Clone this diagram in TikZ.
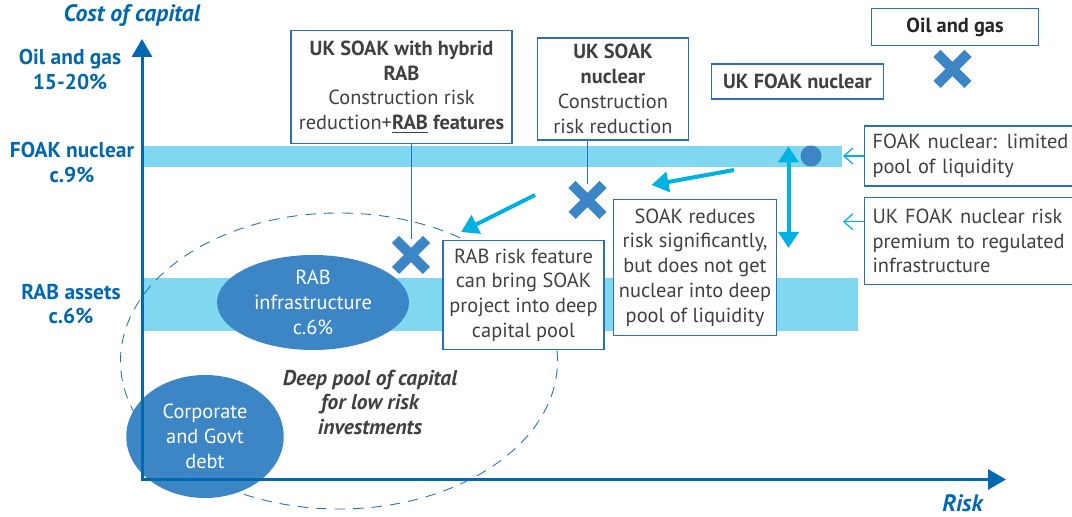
\documentclass[tikz,border=0pt]{standalone}
\usepackage{fontspec}
\setmainfont{PT Sans}
\usetikzlibrary{arrows.meta,shapes.geometric,shapes.misc}

\definecolor{axisblue}{RGB}{0,103,177}
\definecolor{bandblue}{RGB}{127,216,240}
\definecolor{blobblue}{RGB}{60,134,198}
\definecolor{arrowcyan}{RGB}{0,178,227}
\definecolor{boxblue}{RGB}{40,112,184}
\definecolor{textgray}{RGB}{64,64,64}

\begin{document}
\begin{tikzpicture}[font=\fontsize{11.6}{14.1}\selectfont,
  box/.style={draw=boxblue,line width=0.6pt,fill=white,text=textgray,align=center,inner sep=0pt},
  sidebox/.style={box,align=left,text width=4.1cm,inner xsep=0.16cm,anchor=west},
  level/.style={text=axisblue,font=\fontsize{12.2}{14.1}\selectfont\bfseries,align=center},
  title/.style={text=axisblue,font=\fontsize{13.5}{14}\selectfont\bfseries\itshape,inner sep=0pt},
  blob/.style={ellipse,fill=blobblue,text=white,align=center,inner sep=0pt},
  xmark/.style={cross out,draw=blobblue,line width=0.2cm,minimum size=0.42cm,inner sep=0pt},
  tip/.style={arrowcyan,line width=0.08cm,-{Triangle[length=0.34cm,width=0.4cm]}},
  pointer/.style={arrowcyan,line width=0.7pt,-{Straight Barb[length=0.18cm,width=0.32cm]}}]

\useasboundingbox (0,0) rectangle (21.44,10.34);
\clip (0,0) rectangle (21.44,10.34);

% bands
\fill[bandblue] (2.84,7.42) rectangle (16.84,7.00);
\fill[bandblue] (2.84,4.78) rectangle (17.16,3.72);

% deep pool
\draw[boxblue,dash pattern=on 6pt off 4.5pt,line width=0.5pt] (6.78,3.12) ellipse (4.37cm and 2.96cm);

\node[blob,minimum width=3.84cm,minimum height=1.90cm] (rab) at (6.26,4.29) {RAB\\infrastructure\\c.6\%};
\node[blob,minimum width=3.15cm,minimum height=2.46cm] (debt) at (4.10,1.61) {Corporate\\and Govt\\debt};

% axes
\coordinate (ytop) at (2.84,9.56);
\coordinate (xend) at (20.12,0.75);
\draw[axisblue,line width=0.06cm,{Triangle[length=0.36cm,width=0.4cm]}-{Triangle[length=0.36cm,width=0.4cm]}] (ytop) |- (xend);

\node[title] (ytitle) at (2.64,10.02) {Cost of capital};
\node[title] (xtitle) at (19.25,0.27) {Risk};

\node[level] (l0) at (1.40,8.95) {Oil and gas\\15-20\%};
\node[level] (l1) at (1.44,7.09) {FOAK nuclear\\c.9\%};
\node[level] (l2) at (1.42,4.26) {RAB assets\\c.6\%};

\node[text=textgray,font=\fontsize{12.2}{14}\selectfont\bfseries\itshape,align=center] (deep) at (7.40,2.29) {Deep pool of capital\\for low risk\\investments};

% arrows
\coordinate (a0) at (14.68,6.94);
\coordinate (b0) at (13.03,6.64);
\coordinate (a1) at (10.70,6.44);
\coordinate (b1) at (9.22,5.70);
\coordinate (p0) at (15.77,7.41);
\coordinate (p1) at (15.77,5.38);
\draw[tip] (a0) -- (b0);
\draw[tip] (a1) -- (b1);
\draw[tip,{Triangle[length=0.32cm,width=0.4cm]}-{Triangle[length=0.32cm,width=0.4cm]}] (p0) -- (p1);

% boxes
\node[box,minimum width=4.42cm,minimum height=2.25cm] (0) at (8.03,8.60) {\textbf{UK SOAK with hybrid}\\\textbf{RAB}\\Construction risk\\reduction+\textbf{\underline{RAB} features}};
\node[box,minimum width=3.01cm,minimum height=2.04cm] (1) at (12.26,8.56) {\textbf{UK SOAK}\\\textbf{nuclear}\\Construction\\risk reduction};
\node[box,minimum width=3.45cm,minimum height=0.70cm] (2) at (15.95,8.71) {\textbf{UK FOAK nuclear}};
\node[box,text=black!85,minimum width=3.33cm,minimum height=0.73cm] (3) at (19.10,9.80) {\textbf{Oil and gas}};
\node[sidebox,minimum height=1.2cm] (4) at (17.28,7.22) {FOAK nuclear: limited\\pool of liquidity};
\node[sidebox,minimum height=1.73cm] (5) at (17.28,5.52) {UK FOAK nuclear risk\\premium to regulated\\infrastructure};
\node[box,minimum width=3.27cm,minimum height=2.73cm] (6) at (13.90,4.99) {SOAK reduces\\risk significantly,\\but does not get\\nuclear into deep\\pool of liquidity};
\node[box,minimum width=3.22cm,minimum height=2.18cm] (7) at (10.47,4.44) {RAB risk feature\\can bring SOAK\\project into deep\\capital pool};

% markers
\node[xmark] (x0) at (19.05,8.96) {};
\node[xmark] (x1) at (11.75,6.34) {};
\node[xmark] (x2) at (8.22,5.24) {};
\node[circle,fill=blobblue,minimum size=0.42cm,inner sep=0pt] (dot) at (16.22,7.22) {};

\draw[boxblue,line width=0.5pt] (0.south -| x2) -- (x2);
\draw[boxblue,line width=0.5pt] (1.south -| x1) -- (x1);
\draw[pointer] (4.west) -- ++(-0.42,0);
\draw[pointer] ([yshift=-0.49cm]5.north west) -- ++(-0.42,0);

\end{tikzpicture}
\end{document}
